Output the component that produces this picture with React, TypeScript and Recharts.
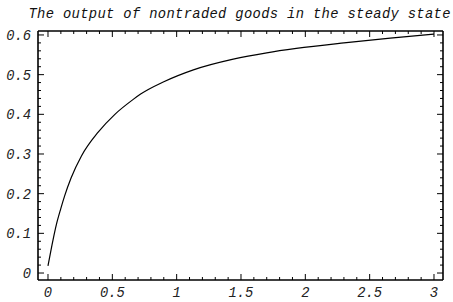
import React from 'react';
import { LineChart, Line, XAxis, YAxis } from 'recharts';

const titleText = 'The output of nontraded goods in the steady state';

const xValues = [0, 0.04, 0.065, 0.1, 0.13, 0.18, 0.26, 0.39, 0.52, 0.66, 0.72, 0.9, 1.13, 1.44, 1.7, 1.93, 2.3, 2.66, 3.0];
const yValues = [0.018, 0.085, 0.122, 0.163, 0.195, 0.24, 0.295, 0.355, 0.4, 0.437, 0.451, 0.482, 0.512, 0.539, 0.555, 0.566, 0.58, 0.592, 0.602];

const xMajorTicks = [0, 0.5, 1, 1.5, 2, 2.5, 3];
const xMinorTicks = [0, 0.1, 0.2, 0.3, 0.4, 0.5, 0.6, 0.7, 0.8, 0.9, 1, 1.1, 1.2, 1.3, 1.4, 1.5, 1.6, 1.7, 1.8, 1.9, 2, 2.1, 2.2, 2.3, 2.4, 2.5, 2.6, 2.7, 2.8, 2.9, 3];
const yMajorTicks = [0, 0.1, 0.2, 0.3, 0.4, 0.5, 0.6];
const yMinorTicks = [0, 0.02, 0.04, 0.06, 0.08, 0.1, 0.12, 0.14, 0.16, 0.18, 0.2, 0.22, 0.24, 0.26, 0.28, 0.3, 0.32, 0.34, 0.36, 0.38, 0.4, 0.42, 0.44, 0.46, 0.48, 0.5, 0.52, 0.54, 0.56, 0.58, 0.6];

const xDomain: [number, number] = [-0.0777, 3.07];
const yDomain: [number, number] = [-0.0176, 0.61];

const data = xValues.map((x, i) => ({ x, y: yValues[i] }));

const FONT = '"Liberation Mono", "Courier New", monospace';
const LABEL_SIZE = 13.8;
const MAJOR_LEN = 6;
const MINOR_LEN = 3;
const frameStroke = { stroke: '#000', strokeWidth: 1.6 };

const isMajor = (v: number, majors: number[]) => majors.some((m) => Math.abs(m - v) < 1e-9);

type Side = 'bottom' | 'top' | 'left' | 'right';

const makeTick = (side: Side, majors: number[], showLabel: boolean) => (props: any) => {
  const { x, y, payload } = props;
  const v = payload.value as number;
  const major = isMajor(v, majors);
  const len = major ? MAJOR_LEN : MINOR_LEN;
  let line;
  if (side === 'bottom') line = <line x1={x} y1={y} x2={x} y2={y - len} stroke="#000" strokeWidth={1} />;
  else if (side === 'top') line = <line x1={x} y1={y} x2={x} y2={y + len} stroke="#000" strokeWidth={1} />;
  else if (side === 'left') line = <line x1={x} y1={y} x2={x + len} y2={y} stroke="#000" strokeWidth={1} />;
  else line = <line x1={x} y1={y} x2={x - len} y2={y} stroke="#000" strokeWidth={1} />;
  let label = null;
  if (showLabel && major) {
    const common = {
      fontFamily: FONT,
      fontStyle: 'italic',
      fontSize: LABEL_SIZE,
      fill: '#222',
    } as any;
    if (side === 'bottom') {
      label = (
        <text x={x} y={y + 7} dy="0.71em" textAnchor="middle" {...common}>
          {String(v)}
        </text>
      );
    } else if (side === 'left') {
      label = (
        <text x={x - 7} y={y} dy="0.355em" textAnchor="end" {...common}>
          {String(v)}
        </text>
      );
    }
  }
  return (
    <g>
      {line}
      {label}
    </g>
  );
};

export default function App() {
  return (
    <div style={{ position: 'absolute', left: 0, top: 0, width: 453, height: 302, background: '#fff' }}>
      <svg width={453} height={26} style={{ position: 'absolute', left: 0, top: 0 }}>
        <text
          x={28.5}
          y={18}
          textLength={422}
          lengthAdjust="spacing"
          fontFamily={FONT}
          fontStyle="italic"
          fontSize={13.8}
          fill="#111"
        >
          {titleText}
        </text>
      </svg>
      <LineChart width={453} height={302} data={data} margin={{ top: 30, right: 9, bottom: 21, left: 37 }}>
        <XAxis
          xAxisId="b"
          dataKey="x"
          type="number"
          domain={xDomain}
          allowDataOverflow
          ticks={xMinorTicks}
          interval={0}
          tickSize={0}
          tickMargin={0}
          height={1}
          tick={makeTick('bottom', xMajorTicks, true)}
          axisLine={frameStroke}
          tickLine={false}
        />
        <XAxis
          xAxisId="t"
          orientation="top"
          dataKey="x"
          type="number"
          domain={xDomain}
          allowDataOverflow
          ticks={xMinorTicks}
          interval={0}
          tickSize={0}
          tickMargin={0}
          height={1}
          tick={makeTick('top', xMajorTicks, false)}
          axisLine={frameStroke}
          tickLine={false}
        />
        <YAxis
          yAxisId="l"
          type="number"
          domain={yDomain}
          allowDataOverflow
          ticks={yMinorTicks}
          interval={0}
          tickSize={0}
          tickMargin={0}
          width={1}
          tick={makeTick('left', yMajorTicks, true)}
          axisLine={frameStroke}
          tickLine={false}
        />
        <YAxis
          yAxisId="r"
          orientation="right"
          type="number"
          domain={yDomain}
          allowDataOverflow
          ticks={yMinorTicks}
          interval={0}
          tickSize={0}
          tickMargin={0}
          width={1}
          tick={makeTick('right', yMajorTicks, false)}
          axisLine={frameStroke}
          tickLine={false}
        />
        <Line
          xAxisId="b"
          yAxisId="l"
          type="monotone"
          dataKey="y"
          stroke="#000"
          strokeWidth={1.2}
          dot={false}
          isAnimationActive={false}
        />
      </LineChart>
    </div>
  );
}
